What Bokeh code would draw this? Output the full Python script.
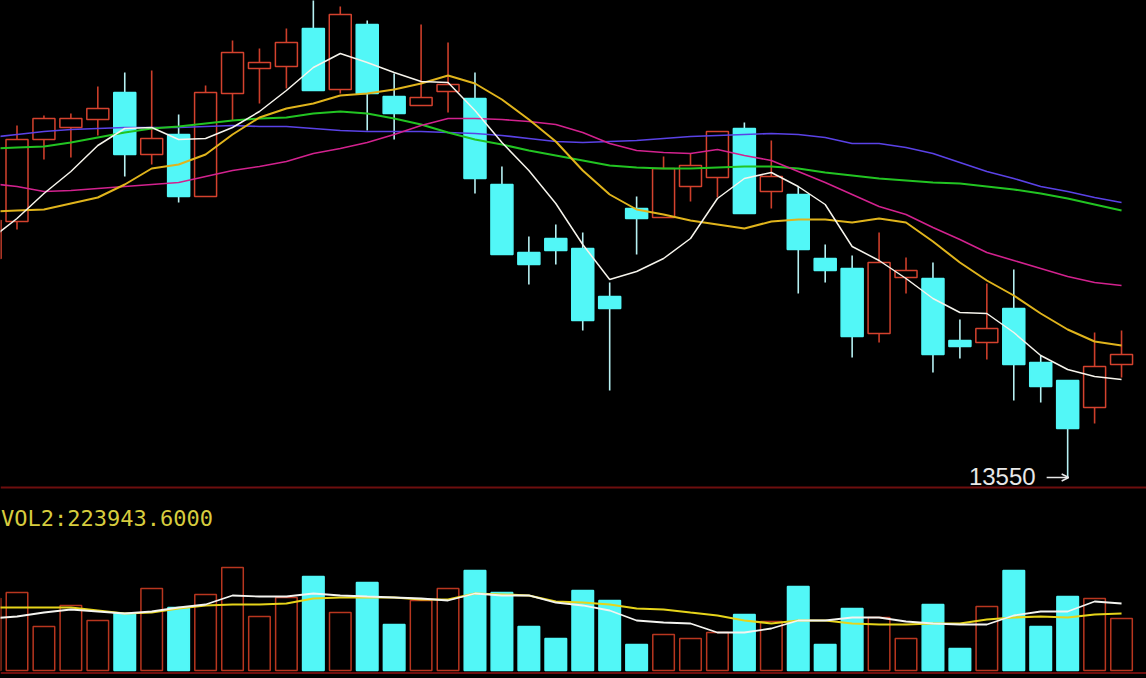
import numpy as np
from bokeh.plotting import figure
from bokeh.models import Range1d, Span, ColumnDataSource, GlobalInlineStyleSheet, Arrow, OpenHead
from bokeh.layouts import column
from bokeh.embed import file_html
from bokeh.resources import INLINE
from bokeh.core.properties import value

# ---------------- data ----------------
idx = list(range(0, 43))
opens = [14645, 14830, 15240, 15300, 15340, 15475, 15165, 15265, 14955, 15470, 15595,
         15605, 15795, 15490, 15815, 15455, 15410, 15480, 15445, 15015, 14675,
         14745, 14695, 14455, 14895, 14850, 15005, 15050, 15295, 14980, 14965,
         14645, 14595, 14270, 14550, 14545, 14235, 14225, 14395, 14125, 14035,
         13900, 14115]
highs = [14860, 15310, 15360, 15370, 15505, 15575, 15585, 15365, 15510, 15735, 15695,
         15795, 15945, 15905, 15835, 15570, 15815, 15725, 15575, 15105, 14755,
         14815, 14775, 14525, 14955, 15155, 15170, 15280, 15325, 15235, 15005,
         14715, 14660, 14775, 14650, 14625, 14340, 14520, 14590, 14160, 14035,
         14275, 14285]
lows = [14600, 14790, 15140, 15150, 15260, 15055, 15115, 14925, 14955, 15335, 15420,
        15495, 15485, 15470, 15285, 15240, 15410, 15375, 14970, 14665, 14515,
        14615, 14285, 13985, 14665, 14850, 14930, 14950, 14870, 14895, 14470,
        14525, 14150, 14225, 14470, 14075, 14145, 14140, 13935, 13925, 13550,
        13820, 14050]
closes = [14835, 15240, 15345, 15345, 15395, 15165, 15245, 14955, 15475, 15675, 15625,
          15725, 15485, 15865, 15470, 15370, 15450, 15515, 15045, 14665, 14615,
          14685, 14335, 14395, 14845, 15095, 15110, 15280, 14870, 15055, 14690,
          14585, 14255, 14625, 14585, 14165, 14205, 14295, 14115, 14005, 13795,
          14105, 14165]
volumes = [283000, 306500, 172900, 255500, 196500, 224000, 322300, 247600, 298700, 404800, 212200,
           286900, 369400, 227900, 345800, 180800, 275100, 322300, 393000, 306500, 172900,
           125800, 314400, 275100, 102200, 141500, 125800, 149300, 220100, 192600, 330100,
           102200, 243700, 208300, 125800, 259400, 86500, 251500, 393000, 172900, 290800,
           283000, 204400]

# moving-average lines, index 0..42
ma_white = [14740, 14845, 14970, 15080, 15210, 15295, 15300, 15240, 15245, 15300,
            15380, 15485, 15600, 15670, 15625, 15575, 15530, 15525, 15385, 15225,
            15085, 14920, 14715, 14540, 14580, 14645, 14745, 14945, 15045, 15075,
            15005, 14915, 14705, 14635, 14545, 14445, 14375, 14370, 14275, 14160,
            14090, 14055, 14040]
ma_yellow = [14880, 14885, 14890, 14920, 14950, 15015, 15095, 15115, 15165, 15265,
             15350, 15395, 15420, 15460, 15470, 15490, 15520, 15560, 15520, 15440,
             15340, 15230, 15085, 14965, 14890, 14865, 14835, 14815, 14795, 14830,
             14840, 14840, 14825, 14845, 14825, 14730, 14625, 14535, 14460, 14370,
             14290, 14230, 14210]
ma_magenta = [15020, 15005, 14980, 14985, 14995, 15005, 15015, 15025, 15055, 15085,
              15105, 15130, 15170, 15195, 15225, 15265, 15310, 15345, 15345, 15340,
              15330, 15315, 15275, 15220, 15185, 15175, 15170, 15190, 15160, 15135,
              15080, 15025, 14965, 14905, 14865, 14800, 14740, 14675, 14635, 14595,
              14555, 14525, 14510]
ma_green = [15195, 15200, 15205, 15225, 15250, 15275, 15295, 15305, 15320, 15335,
            15345, 15350, 15370, 15380, 15370, 15345, 15315, 15275, 15240, 15215,
            15185, 15160, 15135, 15110, 15100, 15095, 15095, 15100, 15105, 15105,
            15095, 15075, 15060, 15045, 15035, 15025, 15020, 15005, 14990, 14970,
            14945, 14915, 14885]
ma_blue = [15250, 15265, 15280, 15290, 15295, 15300, 15300, 15300, 15305, 15310,
           15305, 15305, 15295, 15285, 15280, 15280, 15280, 15275, 15270, 15260,
           15245, 15230, 15225, 15230, 15235, 15245, 15255, 15260, 15265, 15270,
           15265, 15250, 15220, 15220, 15200, 15170, 15125, 15080, 15045, 15005,
           14980, 14950, 14925]
vol_ma_white = [204400, 212200, 227900, 239700, 231900, 224000, 231900, 247600, 259400, 294800,
                290800, 290800, 302600, 294800, 290800, 286900, 283000, 275100, 302600, 294800,
                294800, 267200, 255500, 235800, 196500, 188600, 184700, 149300, 149300, 165100,
                196500, 196500, 208300, 208300, 192600, 184700, 180800, 180800, 216200, 231900,
                231900, 271200, 263300]
vol_ma_yellow = [247600, 247600, 247600, 247600, 235800, 224000, 227900, 243700, 255500, 259400,
                 259400, 263300, 283000, 286900, 286900, 286900, 279000, 279000, 302600, 298700,
                 294800, 271200, 267200, 259400, 243700, 239700, 227900, 216200, 196500, 184700,
                 196500, 196500, 184700, 180800, 180800, 184700, 184700, 200400, 208300, 212200,
                 208300, 220100, 223943.6]
vol_label_name = "VOL2"

# ---------------- styles / layout ----------------
BG = "#000000"
UP_LINE = "#d4422e"
UP_WICK = "#cc3e2a"
UP_VOL = "#b8361f"
DOWN = "#52f7f7"
DOWN_WICK = "#b6f0f2"
SEP = "#6e0e0e"

W = 1146
MAIN_H = 492
VOL_H = 186
STEP_PX = 26.94
X0_PX = 16.5          # page x of candle 1


def px_to_x(page_x):
    return 1 + (page_x - X0_PX) / STEP_PX


xr = Range1d(px_to_x(0), px_to_x(W))
price_per_px = 5.0
vol_per_px = 3930.0
# price pane: page y 0..MAIN_H, low 13550 at page y 477
price_top = 13550 + 477 * price_per_px
price_bot = 13550 - (MAIN_H - 477) * price_per_px
# volume pane: page y MAIN_H..678, zero at page y 670
vol_top = (670 - MAIN_H) * vol_per_px
vol_bot = -(MAIN_H + VOL_H - 670) * vol_per_px


def base_fig(h, yr):
    f = figure(width=W, height=h, x_range=xr, y_range=yr, title=None,
               output_backend="svg", toolbar_location=None,
               x_axis_location=None, y_axis_location=None, min_border=0,
               min_border_left=0, min_border_right=0, min_border_top=0, min_border_bottom=0,
               background_fill_color=BG, border_fill_color=BG, outline_line_color=None)
    f.grid.visible = False
    return f


p1 = base_fig(MAIN_H, Range1d(price_bot, price_top))
p2 = base_fig(VOL_H, Range1d(vol_bot, vol_top))

o = np.array(opens, dtype=float)
c = np.array(closes, dtype=float)
up = c >= o
src = ColumnDataSource(dict(
    x=idx,
    top=np.maximum(o, c),
    bottom=np.minimum(o, c),
    high=highs,
    low=lows,
    vol=volumes,
    fill=[BG if u else DOWN for u in up],
    line=[UP_LINE if u else DOWN for u in up],
    wick=[UP_WICK if u else DOWN_WICK for u in up],
    vline=[UP_VOL if u else DOWN for u in up],
))

# candles
p1.segment(x0="x", y0="low", x1="x", y1="high", line_color="wick", line_width=1.6, source=src)
p1.vbar(x="x", width=0.817, top="top", bottom="bottom", fill_color="fill",
        line_color="line", line_width=1.5, source=src)

# moving averages
p1.line(idx, ma_blue, line_color="#5a42e6", line_width=1.6)
p1.line(idx, ma_green, line_color="#22c422", line_width=2)
p1.line(idx, ma_magenta, line_color="#d2228e", line_width=1.6)
p1.line(idx, ma_yellow, line_color="#e0b41c", line_width=2)
p1.line(idx, ma_white, line_color="#f6f4ec", line_width=1.5)

# separator between panes (page y 487)
p1.add_layout(Span(location=13550 - (487 - 477) * price_per_px, dimension="width",
                   line_color=SEP, line_width=2))

# lowest-price marker
i_low = int(np.argmin(lows))
p1.text(x=[idx[i_low]], y=[lows[i_low]], text=[f"{lows[i_low]}"],
        text_align="right", text_baseline="middle", x_offset=-32, y_offset=-1,
        text_font=value("Liberation Sans"), text_font_size="24px", text_color="#e8e8e8")
p1.add_layout(Arrow(end=OpenHead(size=7, line_color="#e8e8e8", line_width=1.5),
                    x_start=idx[i_low] - 21 / STEP_PX, y_start=lows[i_low],
                    x_end=idx[i_low] + 1 / STEP_PX, y_end=lows[i_low],
                    line_color="#e8e8e8", line_width=1.5))

# volume
p2.vbar(x="x", width=0.8, top="vol", bottom=0, fill_color="fill",
        line_color="vline", line_width=1.5, source=src)
p2.line(idx, vol_ma_yellow, line_color="#e6d41a", line_width=2.2)
p2.line(idx, vol_ma_white, line_color="#f4f4f0", line_width=1.8)

p2.add_layout(Span(location=-(672.5 - 670) * vol_per_px, dimension="width",
                   line_color=SEP, line_width=2))

p2.text(x=[px_to_x(0.5)], y=[(670 - 518) * vol_per_px],
        text=[f"{vol_label_name}:{vol_ma_yellow[-1]:.4f}"],
        text_align="left", text_baseline="alphabetic",
        text_font=value("DejaVu Sans Mono"), text_font_size="22px", text_color="#d6cc3e")

layout = column(p1, p2, spacing=0,
                stylesheets=[GlobalInlineStyleSheet(css="html, body { background: #000; }")])

open("out.html", "w").write(file_html(layout, INLINE))
